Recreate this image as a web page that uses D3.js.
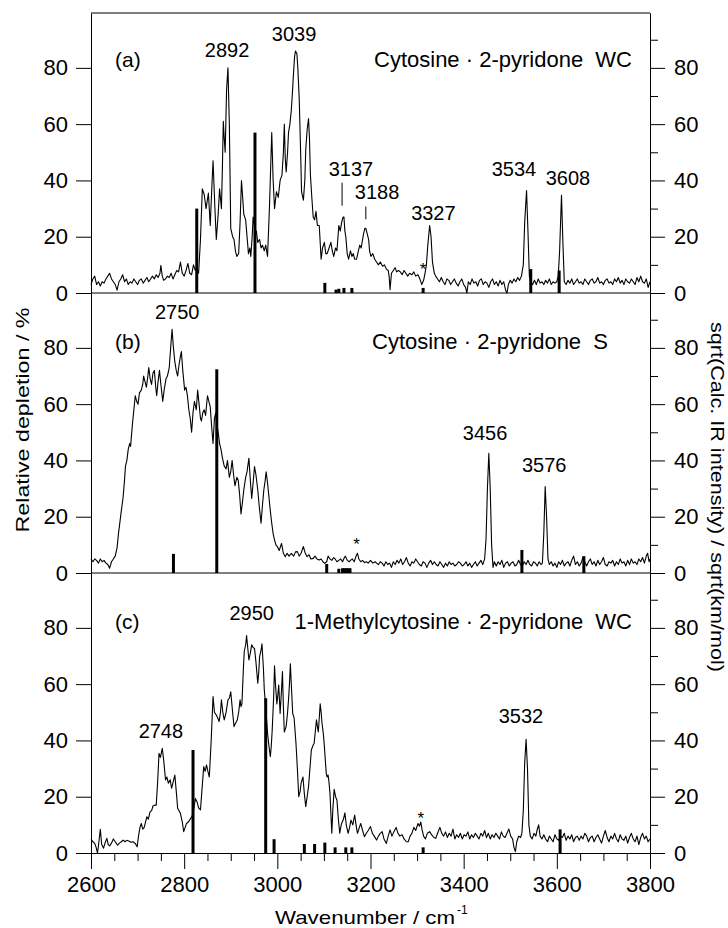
<!DOCTYPE html>
<html>
<head>
<meta charset="utf-8">
<script src="https://cdn.jsdelivr.net/npm/d3@7"></script>
<style>
  body { margin: 0; background: #fff; }
  text { font-family: "Liberation Sans", Arial, sans-serif; fill: #000; }
</style>
</head>
<body>
<div id="chart"></div>
<script>
// measured spectra, [wavenumber, relative depletion %]
const specA = [
  [2600,3],[2604,5],[2608,6],[2612,3],[2616,4],[2620,2.5],[2624,4],[2628,3.5],[2632,5],[2636,6],[2640,7],[2644,5],[2648,4],[2652,3],[2656,1],
  [2660,4],[2664,5],[2668,6.5],[2672,4],[2676,5],[2680,3],[2684,4],[2688,3.5],[2692,5],[2696,4],[2700,3],[2704,4.5],[2708,5],[2712,3.5],[2716,4.5],
  [2720,5.5],[2724,4],[2728,5],[2732,6],[2736,5],[2740,6.5],[2744,5.5],[2748,7],[2750,9.8],[2753,6],[2756,4.5],[2760,5],[2764,6],[2768,5.5],[2772,7],
  [2776,5],[2780,6.5],[2784,8],[2788,7.5],[2792,11],[2796,7],[2800,6],[2804,8],[2808,10.5],[2812,7],[2816,6.5],[2820,10],[2824,8],[2827,9],[2831,7],
  [2835,19],[2839,37],[2843,35],[2847,30],[2852,35.5],[2856,24],[2860,40],[2862,47],[2866,30],[2869,19],[2873,28],[2876,37],[2880,30],[2882,44],[2884,61],
  [2886,55],[2888,50],[2891,72],[2894,80],[2897,60],[2900,23],[2904,20],[2907,19],[2910,15],[2913,13],[2917,14],[2920,25],[2923,40],[2926,33],[2928,28],
  [2932,26],[2935,20],[2938,14],[2941,16],[2943,13],[2946,20],[2948,27],[2950,25],[2953,21],[2955,22],[2958,18],[2962,19],[2965,16],[2968,17],[2972,15],
  [2975,17],[2979,13],[2983,30],[2988,57],[2991,40],[2994,30],[2998,36],[3002,34],[3006,40],[3010,42],[3013,50],[3015,60],[3017,48],[3019,43],[3022,50],
  [3024,57],[3027,60],[3030,65],[3032,70],[3034,76],[3037,84],[3039,86],[3042,85],[3044,80],[3047,69],[3050,50],[3052,36],[3056,33],[3059,40],[3061,51],
  [3064,58],[3067,62],[3069,55],[3071,42],[3074,34],[3077,27],[3080,26],[3083,29],[3086,24],[3090,24],[3094,12],[3097,16],[3101,18],[3104,14],[3107,14],
  [3111,16],[3115,18],[3118,15],[3121,13],[3125,16],[3128,15],[3132,24],[3135,22],[3138,25],[3141,27],[3143,27],[3145,22],[3147,20],[3150,14],[3153,12],
  [3157,15],[3160,13],[3163,14],[3166,12],[3170,12],[3174,15],[3177,17],[3180,16],[3183,19],[3185,21],[3188,23],[3190,23],[3193,21],[3196,19],[3198,15],
  [3201,13],[3205,14],[3209,12],[3213,11],[3217,10],[3221,11],[3226,9.5],[3230,10],[3234,8.5],[3238,8],[3240,6],[3242,1.2],[3245,7],[3249,8],[3253,9],
  [3256,7.5],[3260,8],[3264,7.5],[3268,6.5],[3272,8],[3276,7],[3280,6],[3284,7],[3289,6.5],[3293,7.5],[3297,6],[3302,6.5],[3306,5],[3310,3],[3314,4.5],
  [3317,7],[3320,10],[3323,17],[3327,24],[3330,20],[3333,11],[3337,7],[3340,6],[3344,5],[3348,4],[3352,5.5],[3356,4],[3360,3],[3364,5],[3368,4.5],
  [3372,3],[3376,4],[3380,5],[3384,3.5],[3388,2.5],[3392,4],[3396,5],[3400,3],[3404,2],[3407,0],[3410,4],[3414,3],[3418,5],[3422,3.5],[3426,4],
  [3430,2.5],[3434,4.5],[3438,5],[3442,3],[3446,4],[3450,3.5],[3454,2],[3458,4],[3462,5],[3466,3],[3470,4],[3474,2.5],[3478,4.5],[3482,3],[3486,4],
  [3490,1],[3493,0],[3496,3],[3500,4.5],[3504,3.5],[3508,5],[3512,4],[3516,5.5],[3520,4.5],[3524,6],[3528,10],[3531,25],[3535,36.4],[3538,22],[3541,6],
  [3544,4],[3548,3],[3552,4.5],[3556,3],[3560,5],[3564,3.5],[3568,4],[3572,3],[3576,4.5],[3580,3.5],[3584,5],[3588,3],[3592,4],[3596,3.5],[3600,4],
  [3603,6],[3606,15],[3610,34.7],[3613,18],[3616,4],[3620,3],[3624,4.5],[3628,3.5],[3632,5],[3636,3],[3640,4],[3644,5],[3648,3.5],[3652,4],[3656,3],
  [3660,5],[3664,4],[3668,3],[3672,4.5],[3676,5],[3680,3.5],[3684,4],[3688,5.5],[3692,3.5],[3696,4],[3700,3],[3704,4.5],[3708,5],[3712,3.5],[3716,4],
  [3720,3],[3724,5],[3728,4],[3732,5.5],[3736,3.5],[3740,4.5],[3744,3],[3748,5],[3752,4],[3756,3.5],[3760,5],[3764,4],[3768,3],[3772,5.5],[3776,4],
  [3780,6],[3784,4],[3788,3.5],[3792,5],[3796,2],[3800,4]
];
const specB = [
  [2600,5],[2604,4],[2608,5],[2612,4.5],[2616,3.5],[2620,5],[2624,4],[2628,4.5],[2632,3.5],[2636,3],[2640,1.7],[2644,4],[2648,5],[2652,6],[2656,9],
  [2659,14],[2662,18],[2665,22],[2669,27],[2672,33],[2674,38],[2677,40],[2680,44],[2683,46],[2685,45],[2689,53],[2692,58],[2695,63],[2698,61],[2701,60],
  [2704,64],[2708,65],[2711,67],[2713,70],[2716,68],[2719,66],[2722,70],[2724,73],[2727,69],[2730,67],[2733,71],[2736,72],[2739,66],[2741,63],[2744,68],
  [2747,72],[2750,67],[2754,61],[2757,65],[2761,69],[2764,70],[2768,73],[2771,80],[2774,86.6],[2777,80],[2780,75],[2783,72],[2786,70],[2789,74],[2792,77],
  [2794,78.7],[2797,72],[2801,65],[2804,66],[2807,63],[2810,58],[2813,55],[2816,50],[2819,57],[2822,61],[2826,58],[2829,65],[2832,60],[2835,55],[2837,54],
  [2840,57],[2843,58],[2846,56],[2850,63],[2853,61],[2856,59],[2859,52],[2862,46],[2865,55],[2868,57],[2870,53],[2873,50],[2876,46],[2879,44],[2882,41],
  [2886,38],[2890,37],[2893,40],[2897,34],[2900,36],[2903,40],[2906,35],[2909,31],[2913,34],[2916,33],[2919,28],[2922,21],[2925,25],[2928,29.5],[2932,34],
  [2935,36],[2939,40.8],[2942,33],[2945,26.5],[2948,32],[2951,37.8],[2954,35],[2958,29.5],[2961,24],[2965,17.7],[2968,24],[2971,29.5],[2974,33],[2976,36],
  [2979,32],[2982,27],[2985,22],[2988,17.7],[2991,14],[2994,11.7],[2997,10],[3000,9.4],[3004,8],[3009,10.5],[3013,7],[3017,5.8],[3021,7],[3025,6],[3030,7],
  [3035,6],[3039,7.5],[3043,7.6],[3047,6],[3051,7],[3056,9.4],[3060,7],[3064,5.8],[3068,6.5],[3072,5],[3077,5.2],[3081,6],[3085,5],[3090,4.6],[3094,5],
  [3098,4],[3102,3.4],[3106,4],[3109,6],[3113,5],[3117,4.5],[3121,5.5],[3124,5],[3128,4],[3132,4.5],[3136,5],[3140,4],[3144,5.5],[3146,6],[3150,4.5],
  [3154,4],[3157,4.5],[3161,5],[3165,4],[3169,6],[3172,7],[3175,5],[3179,4],[3183,4.5],[3187,3.7],[3191,4],[3195,3.5],[3200,4.5],[3205,3.5],[3210,4],
  [3213,3.5],[3217,3],[3221,4],[3225,3.5],[3229,2.5],[3233,4],[3237,3],[3241,3.5],[3245,2],[3249,4],[3253,3],[3257,4.5],[3261,3.5],[3265,5],[3269,3],
  [3273,4],[3277,5.5],[3281,3.5],[3285,2.5],[3289,4],[3293,3.5],[3297,5],[3301,4],[3305,3],[3309,2.5],[3313,4],[3317,3.5],[3321,2],[3325,3.5],[3329,4.5],
  [3333,3],[3337,4],[3341,3],[3345,2.5],[3349,4],[3353,3],[3357,2],[3361,3.5],[3365,2.5],[3369,4],[3373,3],[3377,3.5],[3381,2.5],[3385,3],[3389,4],
  [3393,3.5],[3397,2.5],[3401,3],[3405,4],[3409,2.5],[3413,3.5],[3417,2],[3421,3],[3425,4],[3429,2.5],[3433,3.5],[3437,4.5],[3441,3],[3445,5],[3448,12],
  [3451,30],[3454,42.5],[3457,30],[3460,10],[3463,2],[3466,4],[3470,2.5],[3474,4],[3478,3],[3482,4.5],[3486,2],[3490,3.5],[3494,4],[3498,2.5],[3502,3.5],
  [3506,4],[3510,2.5],[3514,3],[3518,4.5],[3522,3],[3526,2.5],[3530,4],[3534,3],[3538,4.5],[3542,3],[3546,2.5],[3550,4],[3554,3.5],[3558,2.5],[3562,4],
  [3566,3],[3569,3.5],[3572,14],[3575,30.7],[3578,20],[3581,5],[3584,3],[3588,4],[3592,2.5],[3596,3.5],[3600,2],[3604,4],[3608,3],[3612,4.5],[3616,2.5],
  [3620,3.5],[3624,4],[3628,2.5],[3632,4.5],[3636,6],[3640,3],[3644,4],[3648,2.5],[3652,3.5],[3656,5.5],[3660,4],[3664,2.5],[3668,4],[3672,5],[3676,3],
  [3680,4],[3684,2.5],[3688,4.5],[3692,3],[3696,4],[3700,5.5],[3704,3],[3708,2.5],[3712,4],[3716,3.5],[3720,4.5],[3724,2.5],[3728,4],[3732,3],[3736,5],
  [3740,3.5],[3744,4],[3748,2.5],[3752,4.5],[3756,3],[3760,5],[3764,3.5],[3768,4],[3772,3],[3776,5],[3780,4],[3784,5.5],[3788,3.5],[3792,6],[3795,7],
  [3798,4],[3800,5]
];
const specC = [
  [2600,5],[2604,4],[2608,3.4],[2611,2],[2614,0],[2617,4],[2620,8.4],[2623,3],[2627,1.7],[2630,3.5],[2634,5.2],[2637,3],[2640,2.5],[2644,3.5],[2648,5],
  [2652,4],[2657,2.8],[2661,3.5],[2665,4],[2669,4.6],[2673,4],[2677,4.5],[2682,4.2],[2686,3.8],[2690,4],[2695,3.4],[2699,2.2],[2702,6],[2705,9],[2708,10.5],
  [2711,8.5],[2714,9],[2717,11],[2720,12.9],[2723,12],[2727,14.7],[2730,15],[2733,16.7],[2737,17],[2740,17],[2743,25],[2746,35.4],[2749,34],[2753,37.2],[2756,33],
  [2760,26],[2763,27],[2766,24.8],[2770,26],[2773,23],[2776,25],[2780,27.7],[2783,22],[2786,15.9],[2789,15],[2792,14],[2796,11],[2799,7.6],[2802,9],[2805,10.5],
  [2809,11],[2814,12.3],[2817,13],[2820,15],[2824,19.4],[2828,18],[2831,16],[2835,15.3],[2838,22],[2842,30.7],[2845,29],[2848,31.3],[2851,29],[2854,27],[2858,40],
  [2862,55.6],[2865,50],[2869,49],[2872,48],[2875,46.7],[2878,50],[2880,54.4],[2883,50],[2886,47.3],[2890,50],[2894,54.4],[2897,55],[2900,57.3],[2904,50],[2907,44.9],
  [2910,46],[2914,47.3],[2917,50],[2920,54.4],[2922,52],[2924,53],[2927,65],[2929,71.6],[2932,74],[2934,77.3],[2937,72],[2939,68.6],[2942,71],[2945,74],[2948,73],
  [2951,72.7],[2954,68],[2958,60.3],[2960,64],[2962,69.8],[2965,72],[2967,74.3],[2970,66],[2972,58],[2975,52],[2979,42.5],[2982,38],[2985,34.2],[2987,38],[2989,43.7],
  [2992,55],[2994,66.5],[2996,60],[2999,53],[3001,56],[3003,59.7],[3006,49.6],[3009,58],[3011,64.5],[3013,52],[3015,43],[3017,44],[3019,45],[3022,50],[3024,54.4],
  [3026,60],[3028,67.2],[3030,60],[3033,49.6],[3036,48],[3040,39],[3043,30],[3046,20],[3049,22],[3051,24.8],[3055,27],[3058,21],[3061,16.5],[3064,20],[3067,23.6],
  [3070,30],[3073,36.6],[3076,38],[3079,39],[3082,44],[3084,47.3],[3086,45],[3088,43],[3090,48],[3092,53],[3094,50],[3096,46],[3099,42],[3101,37.8],[3103,33],
  [3105,28.3],[3107,27],[3109,27.7],[3111,25],[3113,21.2],[3115,14],[3117,7],[3119,15],[3122,22.6],[3125,20],[3128,18.8],[3131,12],[3134,7],[3136,9],[3138,10.5],
  [3142,12],[3145,14.3],[3148,10],[3152,7],[3155,9],[3158,11.7],[3162,10],[3166,13.5],[3169,10],[3172,7],[3176,9],[3179,10.5],[3183,8],[3187,5.8],[3191,7],
  [3195,8],[3200,9.4],[3204,7],[3208,6],[3213,4.6],[3217,6],[3221,7],[3225,7.6],[3229,5],[3234,3.4],[3238,6],[3242,8.2],[3246,6],[3250,7.5],[3255,9.1],
  [3259,7],[3263,6],[3268,6.5],[3272,5],[3277,4],[3281,4],[3285,6],[3289,7],[3293,9.1],[3297,8],[3302,10.5],[3305,9.5],[3308,11],[3311,8],[3314,6],
  [3318,5],[3322,7],[3327,7.6],[3331,6.5],[3336,5.5],[3340,5.2],[3344,7],[3349,9.1],[3353,7],[3357,6],[3361,7.5],[3365,5.5],[3369,7],[3373,6],[3377,8.5],
  [3381,5],[3385,6.5],[3389,5.5],[3393,7],[3397,5],[3401,6.5],[3405,6],[3409,7.5],[3413,5],[3417,6.5],[3421,5.5],[3425,7],[3429,6],[3433,5],[3437,7],
  [3441,6],[3445,8],[3449,5.5],[3453,7],[3457,5],[3461,6.5],[3465,5.5],[3469,7],[3473,6],[3477,5],[3481,7.5],[3485,6],[3489,5.5],[3493,7],[3497,8.5],
  [3501,6],[3505,5],[3508,2],[3511,0.5],[3514,4],[3518,6],[3522,5.5],[3525,7],[3528,15],[3531,32],[3534,40.4],[3537,30],[3540,10],[3543,6],[3547,5],
  [3551,7],[3555,6],[3558,8.5],[3561,10],[3564,6],[3568,5],[3572,6.5],[3576,5],[3580,4],[3584,6],[3588,5],[3592,4],[3596,6.5],[3600,5],[3604,4.5],
  [3608,6],[3612,5.5],[3616,7],[3620,4.5],[3624,6],[3628,5],[3632,6.5],[3636,4],[3640,5.5],[3644,6],[3648,4.5],[3652,6],[3656,5],[3660,7],[3664,6],
  [3668,4],[3672,5.5],[3676,6],[3680,4],[3684,5.5],[3688,6.5],[3692,5],[3696,3.5],[3700,6],[3704,8],[3708,5.5],[3712,4],[3716,6],[3720,5],[3724,7],
  [3728,5],[3732,4],[3736,6.5],[3740,5],[3744,4.5],[3748,6],[3752,3.5],[3756,5.5],[3760,7],[3764,5],[3768,4],[3772,6],[3776,3],[3780,5.5],[3784,7],
  [3788,5],[3792,6],[3796,4],[3800,5]
];

// calculated stick spectra, [wavenumber, sqrt(intensity)]
const sticksA = [[2827,30],[2952,57],[3102,3.6],[3126,1.2],[3132,1.5],[3143,1.8],[3160,1.8],[3313,1.8],[3544,8.5],[3605,8]];
const sticksB = [[2777,6.8],[2870,72.4],[3106,3.2],[3132,1.5],[3140,1.7],[3144,1.7],[3148,1.7],[3152,1.7],[3156,1.7],[3525,8.2],[3658,6]];
const sticksC = [[2819,36.6],[2975,55],[2993,4.9],[3058,3.2],[3080,3.2],[3102,3.7],[3124,2],[3147,2],[3160,2],[3313,2],[3607,8.4]];

// peak labels: [text, wavenumber, value]
const labelsA = [["2892",2892,84],["3039",3036,89.4],["3137",3158,41.4],["3188",3214,33.4],["3327",3335,26],["3534",3508,41.4],["3608",3624,38.4]];
const labelsB = [["2750",2785,90.3],["3456",3446,47.3],["3576",3573,36]];
const labelsC = [["2950",2945,82.8],["2748",2750,41],["3532",3523,46.3]];
// small marker lines under labels: [wavenumber, from, to]
const markersA = [[3139,31,39.2],[3190,26.2,30.7]];
// asterisks: [wavenumber, value]
const starsA = [[3313,6.5]], starsB = [[3170,8]], starsC = [[3308,10.3]];

const panelTags = ["(a)","(b)","(c)"];
const panelNames = ["Cytosine \u00b7 2-pyridone  WC","Cytosine \u00b7 2-pyridone  S","1-Methylcytosine \u00b7 2-pyridone  WC"];
const yTicks = [0,20,40,60,80];
const yMinor = [10,30,50,70,90];
const xTicks = [2600,2800,3000,3200,3400,3600,3800];
const xMinor = [2650,2700,2750,2850,2900,2950,3050,3100,3150,3250,3300,3350,3450,3500,3550,3650,3700,3750];

const W = 728, H = 928;
const mL = 91, mR = 650, mT = 14, ph = 280;
const font = '"Liberation Sans", Arial, sans-serif';

const svg = d3.select('#chart').append('svg').attr('width', W).attr('height', H);

const x = d3.scaleLinear().domain([2600,3800]).range([mL, mR]);

const panels = [
  {spec: specA, sticks: sticksA, labels: labelsA, markers: markersA, stars: starsA},
  {spec: specB, sticks: sticksB, labels: labelsB, markers: [], stars: starsB},
  {spec: specC, sticks: sticksC, labels: labelsC, markers: [], stars: starsC}
];

panels.forEach(function(p, i){
  const zero = mT + ph * (i + 1) - 1;
  const y = d3.scaleLinear().domain([0, 99.5]).range([zero, zero - ph]);
  const g = svg.append('g');

  // sticks
  g.selectAll('line.stick').data(p.sticks).enter().append('line')
    .attr('class','stick')
    .attr('x1', d => x(d[0])).attr('x2', d => x(d[0]))
    .attr('y1', y(0)).attr('y2', d => y(d[1]))
    .attr('stroke','#000').attr('stroke-width',3);

  // spectrum
  const line = d3.line().x(d => x(d[0])).y(d => y(d[1]));
  g.append('path').datum(p.spec)
    .attr('d', line)
    .attr('fill','none').attr('stroke','#000').attr('stroke-width',1.1)
    .attr('stroke-linejoin','round');

  // left axis
  g.append('g').attr('transform', 'translate(' + mL + ',0)')
    .call(d3.axisLeft(y).tickValues(yTicks).tickSize(15).tickSizeOuter(0).tickPadding(8))
    .call(a => a.selectAll('text').style('font-size','22px').style('font-family', font));

  // right axis
  g.append('g').attr('transform', 'translate(' + mR + ',0)')
    .call(d3.axisRight(y).tickValues(yMinor).tickSize(8).tickSizeOuter(0).tickFormat(''));
  g.append('g').attr('transform', 'translate(' + mR + ',0)')
    .call(d3.axisRight(y).tickValues(yTicks).tickSize(15).tickSizeOuter(0).tickPadding(9))
    .call(a => a.selectAll('text').style('font-size','22px').style('font-family', font));

  // zero line of the panel
  if (i < 2) {
    g.append('line').attr('x1', mL).attr('x2', mR).attr('y1', y(0)).attr('y2', y(0))
      .attr('stroke','#000').attr('stroke-width',1);
  } else {
    g.append('g').attr('transform','translate(0,' + y(0) + ')')
      .call(d3.axisBottom(x).tickValues(xMinor).tickSize(8).tickSizeOuter(0).tickFormat(''));
    g.append('g').attr('transform','translate(0,' + y(0) + ')')
      .call(d3.axisBottom(x).tickValues(xTicks).tickSize(16).tickSizeOuter(0).tickPadding(7).tickFormat(d3.format('d')))
      .call(a => a.selectAll('text').style('font-size','22px').style('font-family', font));
  }
  if (i === 0) {
    g.append('line').attr('x1', mL).attr('x2', mR).attr('y1', y(99.5)).attr('y2', y(99.5))
      .attr('stroke','#000').attr('stroke-width',1);
  }

  // panel tag and name
  const base = zero - ph + [54, 56, 56][i];
  g.append('text').attr('x', 115).attr('y', base).style('font-size','21px').text(panelTags[i]);
  g.append('text').attr('x', [632, 608, 632][i]).attr('y', base).attr('text-anchor','end')
    .style('font-size','22px').style('white-space','pre').text(panelNames[i]);

  // peak labels
  g.selectAll('text.peak').data(p.labels).enter().append('text')
    .attr('class','peak').attr('text-anchor','middle')
    .attr('x', d => x(d[1])).attr('y', d => y(d[2]))
    .style('font-size','20px').text(d => d[0]);
  g.selectAll('line.marker').data(p.markers).enter().append('line')
    .attr('x1', d => x(d[0])).attr('x2', d => x(d[0]))
    .attr('y1', d => y(d[1])).attr('y2', d => y(d[2]))
    .attr('stroke','#000').attr('stroke-width',1);
  g.selectAll('text.star').data(p.stars).enter().append('text')
    .attr('class','star').attr('text-anchor','middle')
    .attr('x', d => x(d[0])).attr('y', d => y(d[1]))
    .style('font-size','17px').text('*');
});

svg.selectAll('.domain, .tick line').attr('stroke','#000');

// axis titles (the original lettering is tall and narrow, so lengths are fixed)
svg.append('text')
  .attr('transform','translate(29,420) rotate(-90)')
  .attr('text-anchor','middle').style('font-size','19px')
  .attr('textLength', 225).attr('lengthAdjust','spacingAndGlyphs')
  .text('Relative depletion / %');
svg.append('text')
  .attr('transform','translate(711,497) rotate(90)')
  .attr('text-anchor','middle').style('font-size','19px')
  .attr('textLength', 350).attr('lengthAdjust','spacingAndGlyphs')
  .text('sqrt(Calc. IR intensity) / sqrt(km/mol)');
svg.append('text').attr('x', 275).attr('y', 924)
  .style('font-size','19px')
  .attr('textLength', 180).attr('lengthAdjust','spacingAndGlyphs')
  .text('Wavenumber / cm');
svg.append('text').attr('x', 457).attr('y', 914)
  .style('font-size','12px').text('-1');
</script>
</body>
</html>
